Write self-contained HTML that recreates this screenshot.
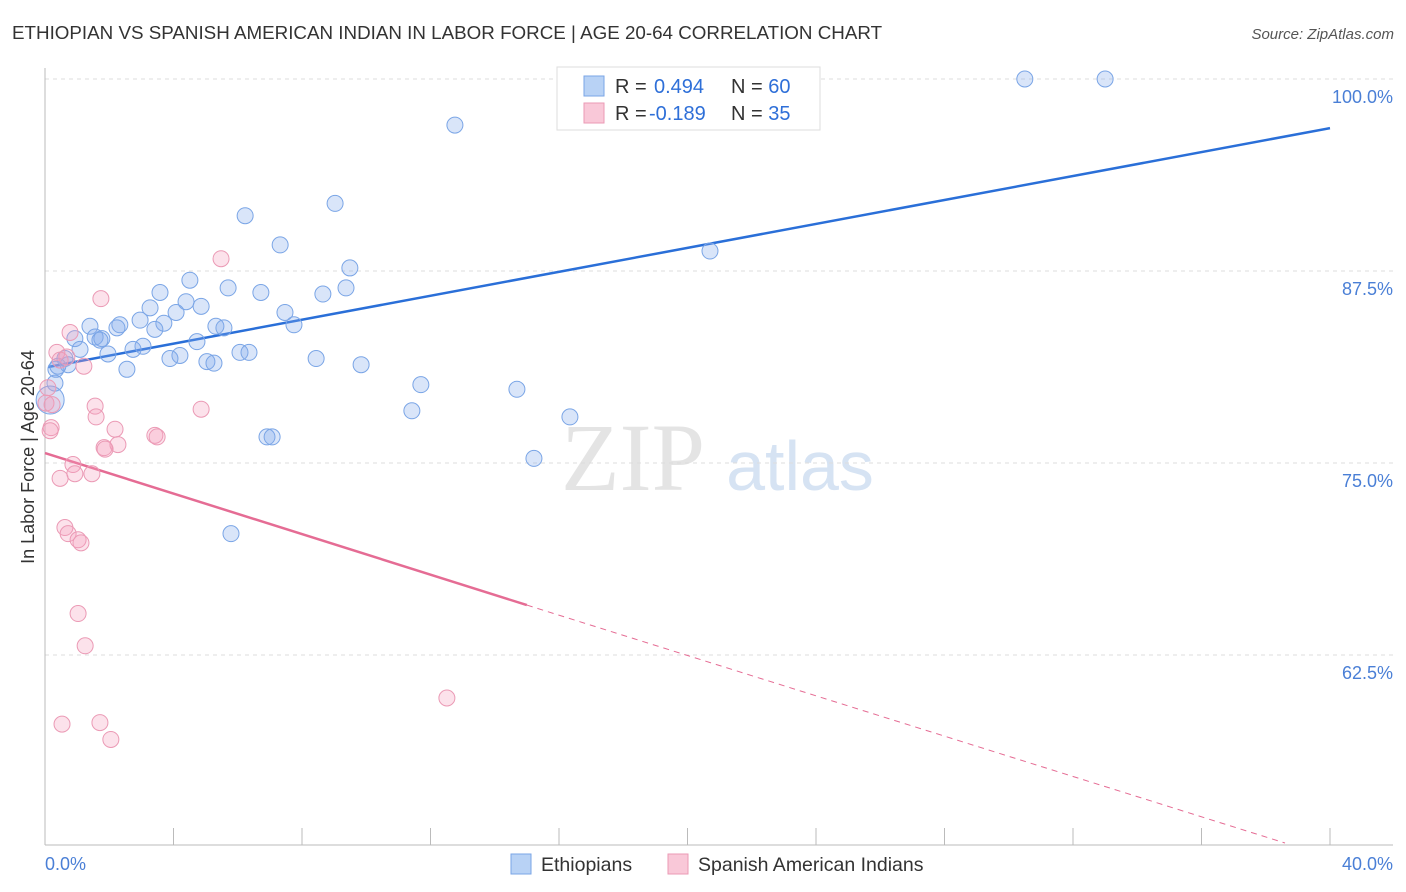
<!DOCTYPE html>
<html><head><meta charset="utf-8">
<style>
body{margin:0;background:#fff;font-family:"Liberation Sans",sans-serif;}
svg{display:block}
</style></head>
<body>
<svg id="chart" width="1406" height="892">
<text x="12" y="39" font-size="18.8" fill="#333">ETHIOPIAN VS SPANISH AMERICAN INDIAN IN LABOR FORCE | AGE 20-64 CORRELATION CHART</text>
<text x="1394" y="39" font-size="15" fill="#555" font-style="italic" text-anchor="end">Source: ZipAtlas.com</text>
<text x="633" y="490" font-size="96" fill="#e4e4e4" font-family="Liberation Serif" text-anchor="middle">ZIP</text>
<text x="800" y="490" font-size="70" fill="#d6e3f3" text-anchor="middle">atlas</text>
<g id="grid"></g>
<g id="axes"></g>
<g id="lines"></g>
<g id="points"></g>
<text transform="translate(34,457) rotate(-90)" font-size="18" fill="#333" text-anchor="middle">In Labor Force | Age 20-64</text>
<text x="45" y="870" font-size="18" fill="#4a7fd6">0.0%</text>
<text x="1393" y="870" font-size="18" fill="#4a7fd6" text-anchor="end">40.0%</text>
<g>
<rect x="557" y="67" width="263" height="63" fill="#fff" stroke="#ddd"/>
<rect x="584" y="76" width="20" height="20" fill="#b8d2f5" stroke="#7aa5e6"/>
<rect x="584" y="103" width="20" height="20" fill="#f9c8d8" stroke="#eb9ab5"/>
<text x="615" y="93" font-size="20" fill="#333">R = <tspan x="654" fill="#2e6fd8">0.494</tspan><tspan x="731">N = </tspan><tspan fill="#2e6fd8">60</tspan></text>
<text x="615" y="120" font-size="20" fill="#333">R = <tspan x="649" fill="#2e6fd8">-0.189</tspan><tspan x="731">N = </tspan><tspan fill="#2e6fd8">35</tspan></text>
</g>
<g>
<rect x="511" y="854" width="20" height="20" fill="#b8d2f5" stroke="#7aa5e6"/>
<text x="541" y="871" font-size="19.5" fill="#333">Ethiopians</text>
<rect x="668" y="854" width="20" height="20" fill="#f9c8d8" stroke="#eb9ab5"/>
<text x="698" y="871" font-size="19.5" fill="#333">Spanish American Indians</text>
</g>
</svg>
<script>
const yTicks=[100,87.5,75,62.5];
const yTickLabels=["100.0%","87.5%","75.0%","62.5%"];
const blueX=[30.5,33.0,12.76,9.03,6.23,7.32,20.7,9.49,4.51,5.70,3.58,6.72,8.65,9.37,4.39,4.86,3.27,4.08,7.47,2.96,3.70,1.40,2.33,2.24,5.32,5.57,7.75,3.42,0.93,1.56,1.77,4.73,3.05,2.74,1.09,1.96,4.20,3.89,6.07,6.35,5.04,5.26,8.44,9.84,0.62,0.72,2.55,0.34,11.70,14.69,0.31,0.16,11.42,16.34,6.91,7.07,15.22,5.79,0.40,1.71];
const blueY=[100,100,97.0,91.9,91.1,89.2,88.8,87.7,86.9,86.4,86.1,86.1,86.0,86.4,85.5,85.2,85.1,84.8,84.8,84.3,84.1,83.9,84.0,83.8,83.9,83.8,84.0,83.7,83.1,83.2,83.1,82.9,82.6,82.4,82.4,82.1,82.0,81.8,82.2,82.2,81.6,81.5,81.8,81.4,81.8,81.4,81.1,81.1,80.1,79.8,80.2,79.1,78.4,78.0,76.7,76.7,75.3,70.4,81.3,83.0];
const blueR=[8,8,8,8,8,8,8,8,8,8,8,8,8,8,8,8,8,8,8,8,8,8,8,8,8,8,8,8,8,8,8,8,8,8,8,8,8,8,8,8,8,8,8,8,8,8,8,8,8,8,8,14,8,8,8,8,8,8,8,8];
const pinkX=[5.48,1.74,0.78,0.37,0.68,1.21,0.09,0.03,0.22,1.56,4.86,1.59,2.18,0.19,3.42,3.49,1.84,2.27,1.87,0.87,0.93,1.46,0.47,0.62,0.72,1.03,1.12,1.03,1.25,12.51,0.53,1.71,2.05,0.16,0.47];
const pinkY=[88.3,85.7,83.5,82.2,81.9,81.3,79.9,78.9,78.8,78.7,78.5,78.0,77.2,77.3,76.8,76.7,76.0,76.2,75.9,74.9,74.3,74.3,74.0,70.8,70.4,70.0,69.8,65.2,63.1,59.7,58.0,58.1,57.0,77.1,81.7];
const blueLine=[[0.1,81.25],[40,96.8]];
const pinkSolid=[[0,75.65],[15,65.75]];
const pinkDash=[[15,65.75],[38.6,50.26]];
const X=v=>45+v*32.125, Y=v=>79+(100-v)*15.36;
const NS="http://www.w3.org/2000/svg";
function mk(t,a,p){const e=document.createElementNS(NS,t);for(const k in a)e.setAttribute(k,a[k]);p.appendChild(e);return e;}
const grid=document.getElementById('grid'),axes=document.getElementById('axes'),lines=document.getElementById('lines'),pts=document.getElementById('points');
yTicks.forEach((t,i)=>{
 const l=mk('line',{x1:45,x2:1393,y1:Y(t),y2:Y(t),stroke:'#ddd','stroke-dasharray':'4,4'},grid);
 
 
 const tx=mk('text',{x:1393,y:Y(t)+24,'font-size':18,fill:'#4a7fd6','text-anchor':'end'},grid);
 tx.textContent=yTickLabels[i];
 
 
});
mk('line',{x1:45,x2:45,y1:68,y2:845,stroke:'#bbb'},axes);
mk('line',{x1:45,x2:1393,y1:845,y2:845,stroke:'#bbb'},axes);
for(let i=1;i<=10;i++){const tk=mk('line',{x1:X(i*4),x2:X(i*4),y1:828,y2:845,stroke:'#bbb'},axes);
 
 }
function seg(s,c,d,name){const l=mk('line',{x1:X(s[0][0]),y1:Y(s[0][1]),x2:X(s[1][0]),y2:Y(s[1][1]),stroke:c,'stroke-width':d?1:2.5},lines);if(d)l.setAttribute('stroke-dasharray','6,5');
 
 }
seg(blueLine,'#2a6fd8',false,'ethiopians-trend-line');
seg(pinkSolid,'#e56c94',false,'spanish-american-indians-trend-line');
seg(pinkDash,'#e56c94',true,'spanish-american-indians-trend-extension');
blueX.forEach((x,i)=>{const c=mk('circle',{cx:X(x),cy:Y(blueY[i]),r:blueR[i],fill:'rgba(130,170,235,0.3)',stroke:'#7aa5e6','stroke-width':1},pts);
 
 });
pinkX.forEach((x,i)=>{const c=mk('circle',{cx:X(x),cy:Y(pinkY[i]),r:8,fill:'rgba(245,160,190,0.3)',stroke:'#eb9ab5','stroke-width':1},pts);
 
 });
</script>
</body></html>
